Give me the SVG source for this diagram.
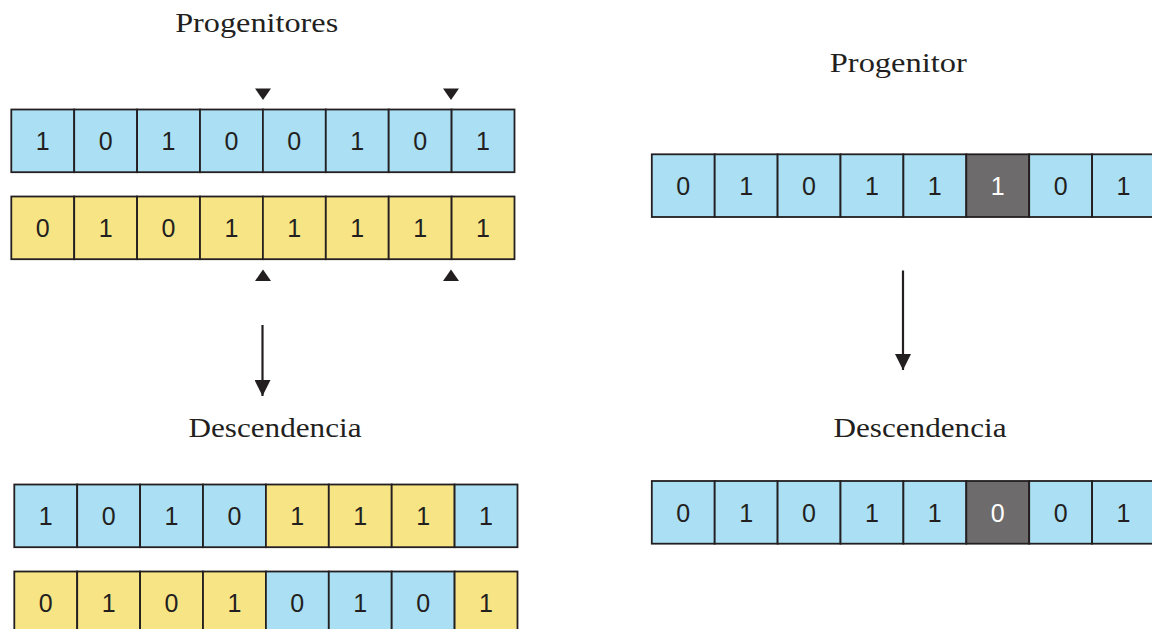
<svg xmlns="http://www.w3.org/2000/svg" width="1152" height="629" viewBox="0 0 1152 629">
  <style>
    .cell { stroke: #231f20; stroke-width: 1.8; }
    .b { fill: #aadff4; }
    .y { fill: #f7e485; }
    .g { fill: #6d6b6c; }
    .bit { font-family: "Liberation Sans", Arial, sans-serif; font-size: 25px; fill: #231f20; text-anchor: middle; }
    .bit.w { fill: #ffffff; }
    .title { font-family: "Liberation Serif", "Times New Roman", serif; font-size: 27px; fill: #231f20; text-anchor: middle; }
    .marker { fill: #231f20; }
    .conn { stroke: #231f20; stroke-width: 2.2; fill: none; }
  </style>
  <defs>
    <marker id="arrowhead" viewBox="0 0 16 16" refX="16" refY="8" markerWidth="16" markerHeight="16" markerUnits="userSpaceOnUse" orient="auto">
      <path d="M0,0 L16,8 L0,16 Z" fill="#231f20"/>
    </marker>
  </defs>

  <rect width="1152" height="629" fill="#ffffff"/>

  <!-- titles -->
  <text class="title" x="256.7" y="31.7" textLength="163" lengthAdjust="spacingAndGlyphs">Progenitores</text>
  <text class="title" x="898.3" y="71.7" textLength="137" lengthAdjust="spacingAndGlyphs">Progenitor</text>
  <text class="title" x="275" y="436.7" textLength="173" lengthAdjust="spacingAndGlyphs">Descendencia</text>
  <text class="title" x="920" y="436.7" textLength="173" lengthAdjust="spacingAndGlyphs">Descendencia</text>

  <!-- crossover point markers -->
  <g id="cut-markers">
    <path class="marker" d="M255,88.5 L271,88.5 L263,100 Z"/>
    <path class="marker" d="M443,88.5 L459,88.5 L451,100 Z"/>
    <path class="marker" d="M255,281 L271,281 L263,269.5 Z"/>
    <path class="marker" d="M443,281 L459,281 L451,269.5 Z"/>
  </g>

  <!-- parent A (crossover) -->
  <g id="parent-a">
    <rect class="cell b" x="11.3" y="109.5" width="62.9" height="62.7"/>
    <rect class="cell b" x="74.2" y="109.5" width="62.9" height="62.7"/>
    <rect class="cell b" x="137.1" y="109.5" width="62.9" height="62.7"/>
    <rect class="cell b" x="200" y="109.5" width="62.9" height="62.7"/>
    <rect class="cell b" x="262.9" y="109.5" width="62.9" height="62.7"/>
    <rect class="cell b" x="325.8" y="109.5" width="62.9" height="62.7"/>
    <rect class="cell b" x="388.7" y="109.5" width="62.9" height="62.7"/>
    <rect class="cell b" x="451.6" y="109.5" width="62.9" height="62.7"/>
    <text class="bit" x="42.7" y="150">1</text>
    <text class="bit" x="105.6" y="150">0</text>
    <text class="bit" x="168.5" y="150">1</text>
    <text class="bit" x="231.4" y="150">0</text>
    <text class="bit" x="294.3" y="150">0</text>
    <text class="bit" x="357.2" y="150">1</text>
    <text class="bit" x="420.1" y="150">0</text>
    <text class="bit" x="483" y="150">1</text>
  </g>

  <!-- parent B (crossover) -->
  <g id="parent-b">
    <rect class="cell y" x="11.3" y="196.5" width="62.9" height="62.7"/>
    <rect class="cell y" x="74.2" y="196.5" width="62.9" height="62.7"/>
    <rect class="cell y" x="137.1" y="196.5" width="62.9" height="62.7"/>
    <rect class="cell y" x="200" y="196.5" width="62.9" height="62.7"/>
    <rect class="cell y" x="262.9" y="196.5" width="62.9" height="62.7"/>
    <rect class="cell y" x="325.8" y="196.5" width="62.9" height="62.7"/>
    <rect class="cell y" x="388.7" y="196.5" width="62.9" height="62.7"/>
    <rect class="cell y" x="451.6" y="196.5" width="62.9" height="62.7"/>
    <text class="bit" x="42.7" y="237">0</text>
    <text class="bit" x="105.6" y="237">1</text>
    <text class="bit" x="168.5" y="237">0</text>
    <text class="bit" x="231.4" y="237">1</text>
    <text class="bit" x="294.3" y="237">1</text>
    <text class="bit" x="357.2" y="237">1</text>
    <text class="bit" x="420.1" y="237">1</text>
    <text class="bit" x="483" y="237">1</text>
  </g>

  <!-- offspring 1 (crossover) -->
  <g id="child-a">
    <rect class="cell b" x="14.3" y="484.5" width="62.9" height="62.7"/>
    <rect class="cell b" x="77.2" y="484.5" width="62.9" height="62.7"/>
    <rect class="cell b" x="140.1" y="484.5" width="62.9" height="62.7"/>
    <rect class="cell b" x="203" y="484.5" width="62.9" height="62.7"/>
    <rect class="cell y" x="265.9" y="484.5" width="62.9" height="62.7"/>
    <rect class="cell y" x="328.8" y="484.5" width="62.9" height="62.7"/>
    <rect class="cell y" x="391.7" y="484.5" width="62.9" height="62.7"/>
    <rect class="cell b" x="454.6" y="484.5" width="62.9" height="62.7"/>
    <text class="bit" x="45.7" y="525">1</text>
    <text class="bit" x="108.6" y="525">0</text>
    <text class="bit" x="171.5" y="525">1</text>
    <text class="bit" x="234.4" y="525">0</text>
    <text class="bit" x="297.3" y="525">1</text>
    <text class="bit" x="360.2" y="525">1</text>
    <text class="bit" x="423.1" y="525">1</text>
    <text class="bit" x="486" y="525">1</text>
  </g>

  <!-- offspring 2 (crossover) -->
  <g id="child-b">
    <rect class="cell y" x="14.3" y="571.5" width="62.9" height="62.7"/>
    <rect class="cell y" x="77.2" y="571.5" width="62.9" height="62.7"/>
    <rect class="cell y" x="140.1" y="571.5" width="62.9" height="62.7"/>
    <rect class="cell y" x="203" y="571.5" width="62.9" height="62.7"/>
    <rect class="cell b" x="265.9" y="571.5" width="62.9" height="62.7"/>
    <rect class="cell b" x="328.8" y="571.5" width="62.9" height="62.7"/>
    <rect class="cell b" x="391.7" y="571.5" width="62.9" height="62.7"/>
    <rect class="cell y" x="454.6" y="571.5" width="62.9" height="62.7"/>
    <text class="bit" x="45.7" y="612">0</text>
    <text class="bit" x="108.6" y="612">1</text>
    <text class="bit" x="171.5" y="612">0</text>
    <text class="bit" x="234.4" y="612">1</text>
    <text class="bit" x="297.3" y="612">0</text>
    <text class="bit" x="360.2" y="612">1</text>
    <text class="bit" x="423.1" y="612">0</text>
    <text class="bit" x="486" y="612">1</text>
  </g>

  <!-- parent (mutation) -->
  <g id="mutation-parent">
    <rect class="cell b" x="651.8" y="154.3" width="62.9" height="62.7"/>
    <rect class="cell b" x="714.7" y="154.3" width="62.9" height="62.7"/>
    <rect class="cell b" x="777.6" y="154.3" width="62.9" height="62.7"/>
    <rect class="cell b" x="840.5" y="154.3" width="62.9" height="62.7"/>
    <rect class="cell b" x="903.4" y="154.3" width="62.9" height="62.7"/>
    <rect class="cell g" x="966.3" y="154.3" width="62.9" height="62.7"/>
    <rect class="cell b" x="1029.2" y="154.3" width="62.9" height="62.7"/>
    <rect class="cell b" x="1092.1" y="154.3" width="62.9" height="62.7"/>
    <text class="bit" x="683.2" y="194.8">0</text>
    <text class="bit" x="746.1" y="194.8">1</text>
    <text class="bit" x="809" y="194.8">0</text>
    <text class="bit" x="871.9" y="194.8">1</text>
    <text class="bit" x="934.8" y="194.8">1</text>
    <text class="bit w" x="997.7" y="194.8">1</text>
    <text class="bit" x="1060.6" y="194.8">0</text>
    <text class="bit" x="1123.5" y="194.8">1</text>
  </g>

  <!-- offspring (mutation) -->
  <g id="mutation-child">
    <rect class="cell b" x="651.8" y="481" width="62.9" height="62.7"/>
    <rect class="cell b" x="714.7" y="481" width="62.9" height="62.7"/>
    <rect class="cell b" x="777.6" y="481" width="62.9" height="62.7"/>
    <rect class="cell b" x="840.5" y="481" width="62.9" height="62.7"/>
    <rect class="cell b" x="903.4" y="481" width="62.9" height="62.7"/>
    <rect class="cell g" x="966.3" y="481" width="62.9" height="62.7"/>
    <rect class="cell b" x="1029.2" y="481" width="62.9" height="62.7"/>
    <rect class="cell b" x="1092.1" y="481" width="62.9" height="62.7"/>
    <text class="bit" x="683.2" y="521.5">0</text>
    <text class="bit" x="746.1" y="521.5">1</text>
    <text class="bit" x="809" y="521.5">0</text>
    <text class="bit" x="871.9" y="521.5">1</text>
    <text class="bit" x="934.8" y="521.5">1</text>
    <text class="bit w" x="997.7" y="521.5">0</text>
    <text class="bit" x="1060.6" y="521.5">0</text>
    <text class="bit" x="1123.5" y="521.5">1</text>
  </g>

  <!-- connectors -->
  <g id="connectors">
    <line class="conn" x1="262.5" y1="325" x2="262.5" y2="396" marker-end="url(#arrowhead)"/>
    <line class="conn" x1="903" y1="270.5" x2="903" y2="370" marker-end="url(#arrowhead)"/>
  </g>
</svg>
